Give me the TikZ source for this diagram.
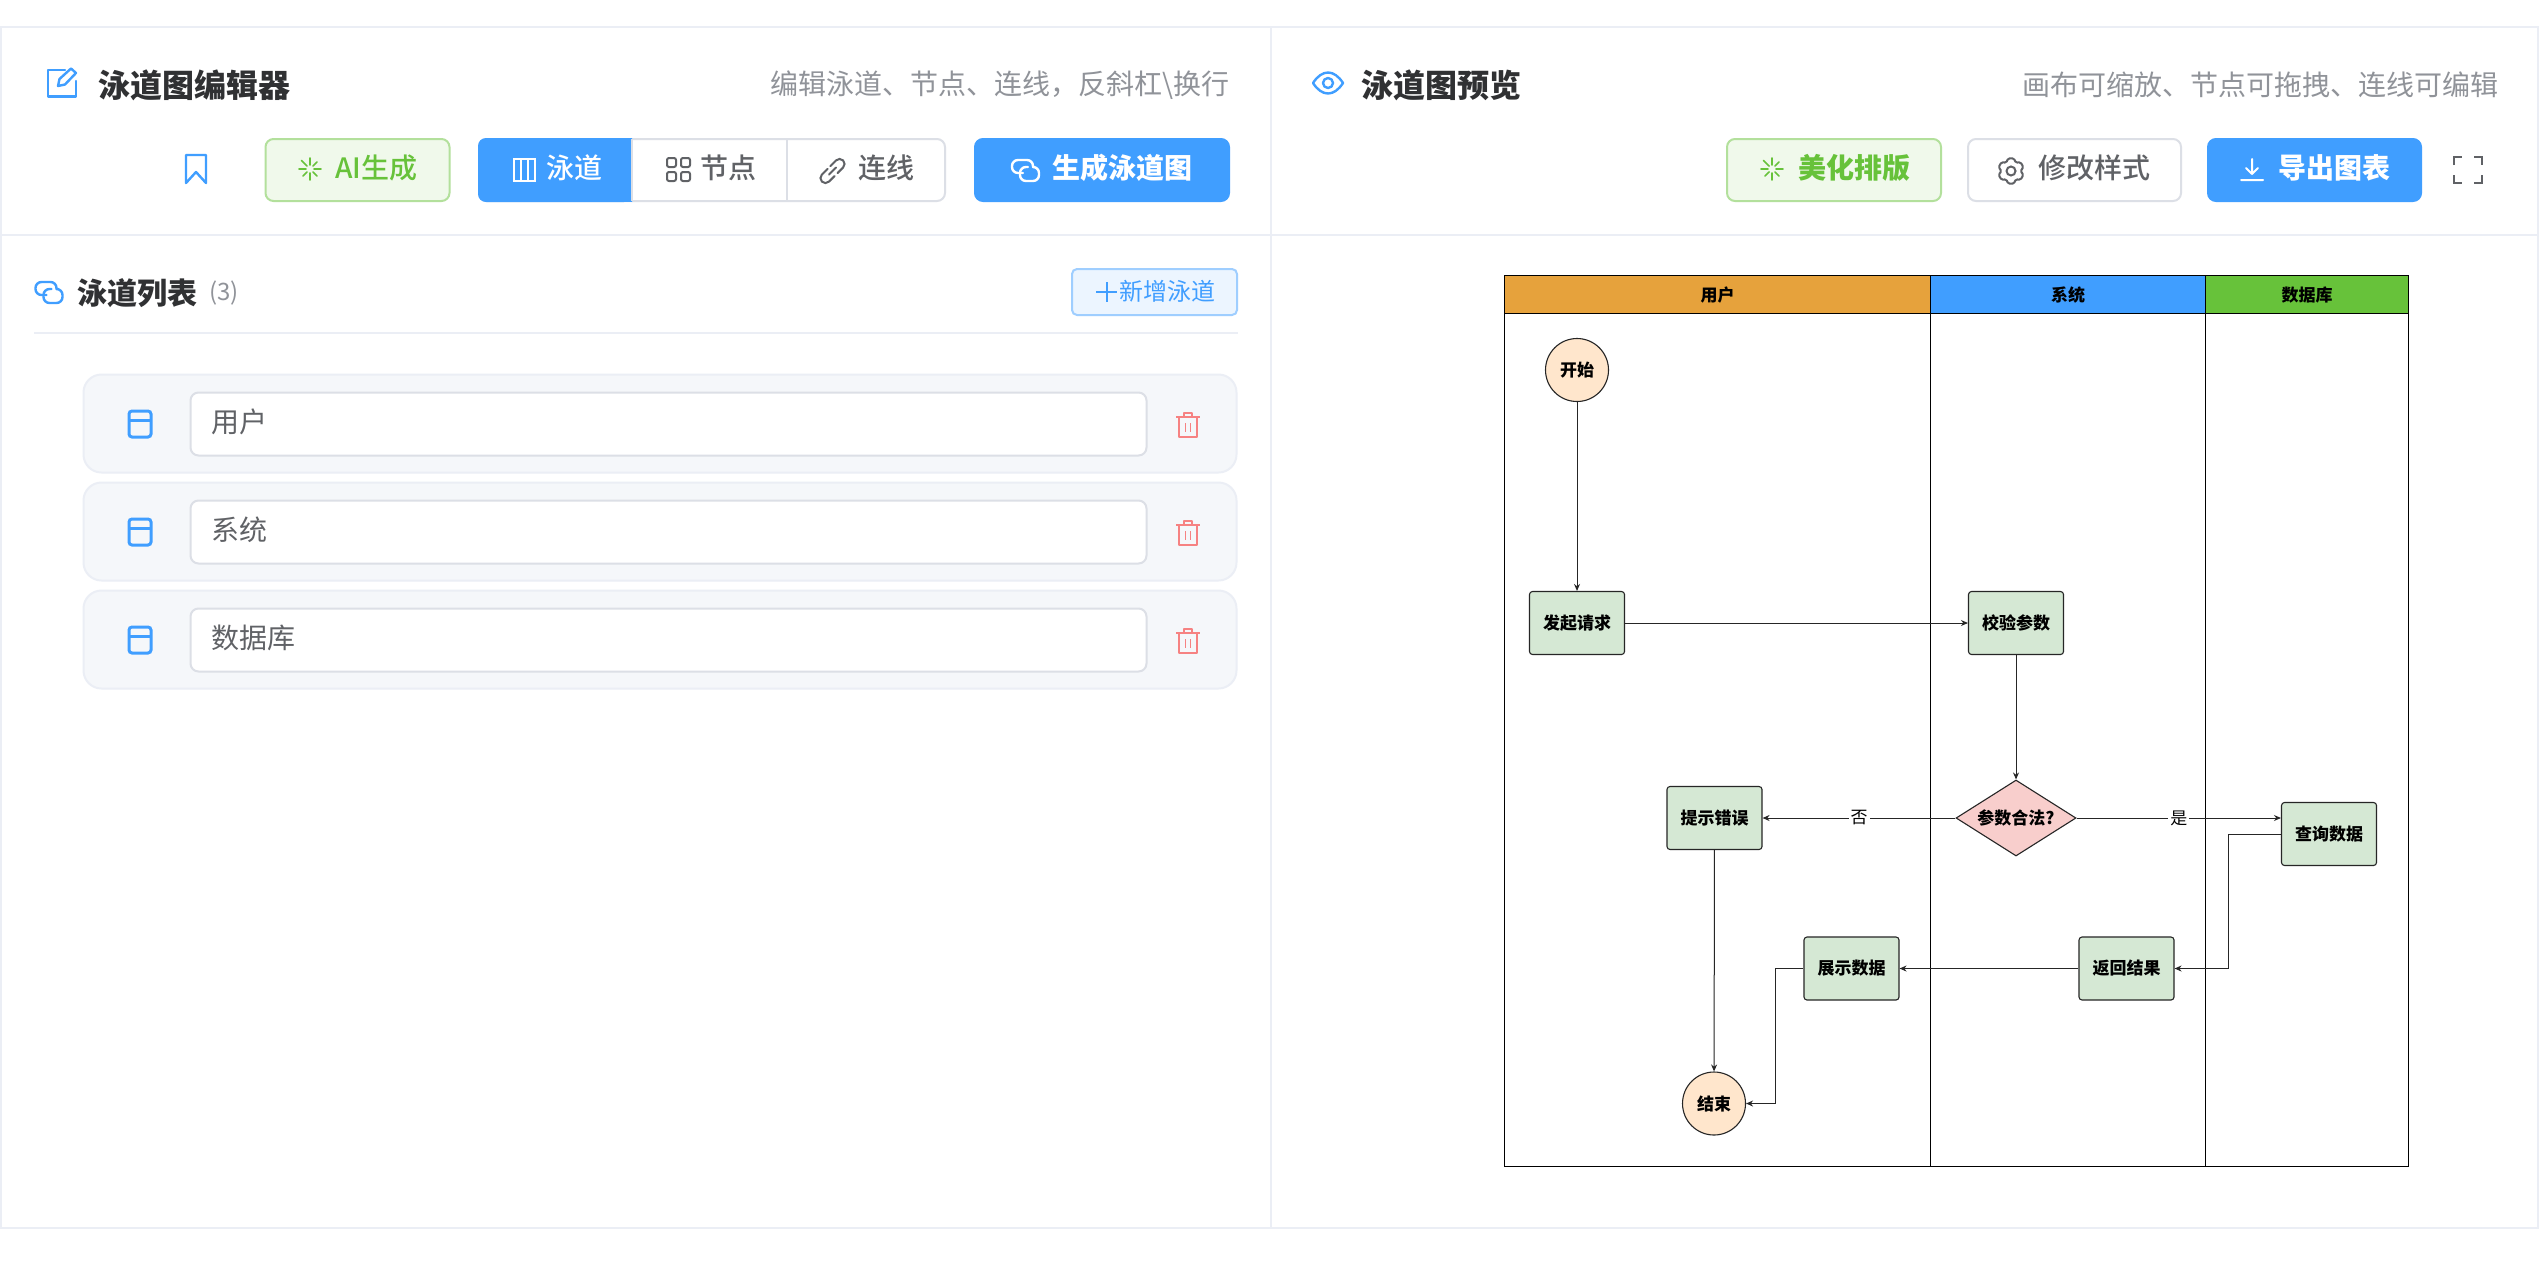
\documentclass[tikz,border=0pt]{standalone}
\usepackage{fontspec}
\setmainfont{Noto Sans CJK SC}
\newfontfamily\mediumfont{Noto Sans CJK SC Medium}
\usetikzlibrary{arrows.meta, shapes.geometric}

\definecolor{linegray}{HTML}{EBEEF5}
\definecolor{btngray}{HTML}{DCDFE6}
\definecolor{rowfill}{HTML}{F5F7FA}
\definecolor{titledark}{HTML}{303133}
\definecolor{subgray}{HTML}{909399}
\definecolor{textgray}{HTML}{606266}
\definecolor{uiblue}{HTML}{409EFF}
\definecolor{uigreen}{HTML}{67C23A}
\definecolor{uiorange}{HTML}{E6A23C}
\definecolor{uired}{HTML}{F56C6C}
\definecolor{termfill}{HTML}{FFE6CC}
\definecolor{procfill}{HTML}{D5E8D4}
\definecolor{decidefill}{HTML}{F8CECC}

\tikzset{
  panelline/.style={draw=linegray, line width=2pt},
  paneltitle/.style={inner sep=0pt, text=titledark, font=\fontsize{32}{34}\selectfont\bfseries},
  listtitle/.style={inner sep=0pt, text=titledark, font=\fontsize{30}{32}\selectfont\bfseries},
  subtitle/.style={inner sep=0pt, text=subgray, font=\fontsize{28}{30}\selectfont},
  btn/.style={rectangle, rounded corners=8pt, line width=2pt, minimum height=62pt, inner sep=0pt},
  greenbtn/.style={btn, draw=uigreen!50!white, fill=uigreen!10!white},
  whitebtn/.style={btn, draw=btngray, fill=white},
  bluebtn/.style={btn, draw=uiblue, fill=uiblue},
  btntext/.style={inner sep=0pt, font=\fontsize{28}{30}\mediumfont\selectfont},
  boldtext/.style={inner sep=0pt, font=\fontsize{28}{30}\selectfont\bfseries},
  row/.style={rectangle, draw=linegray, fill=rowfill, line width=2pt, rounded corners=18pt,
    minimum width=1153pt, minimum height=98pt, inner sep=0pt},
  field/.style={rectangle, draw=btngray, fill=white, line width=2pt, rounded corners=8pt,
    minimum width=956pt, minimum height=63pt, inner sep=0pt},
  fieldtext/.style={inner sep=0pt, text=textgray, font=\fontsize{28}{30}\selectfont},
  lanehead/.style={rectangle, draw=black, line width=1.4pt, minimum height=38pt, inner sep=0pt,
    font=\fontsize{17}{19}\selectfont\bfseries},
  lanebody/.style={rectangle, draw=black, line width=1.4pt, minimum height=853pt, inner sep=0pt},
  term/.style={circle, draw=black!85, fill=termfill, line width=1.1pt, minimum size=63pt,
    inner sep=0pt, font=\fontsize{17}{19}\selectfont\bfseries},
  proc/.style={rectangle, draw=black!85, fill=procfill, rounded corners=3pt, line width=1.1pt,
    minimum width=95pt, minimum height=63pt, inner sep=0pt, font=\fontsize{17}{19}\selectfont\bfseries},
  decide/.style={diamond, draw=black!85, fill=decidefill, line width=1.1pt, aspect=1.58,
    minimum width=120pt, minimum height=76pt, inner sep=0pt, font=\fontsize{17}{19}\selectfont\bfseries},
  flow/.style={draw=black!85, line width=1pt, -{Stealth[length=7pt, width=6pt]}},
  edgetext/.style={fill=white, inner sep=2pt, font=\fontsize{17}{19}\selectfont},
  icon/.style={line width=2.4pt, line cap=round, line join=round},
  sparkle/.pic={
    \draw[line width=1.6pt, line cap=round]
      (90:4) -- (90:11) (45:4) -- (45:10) (0:4) -- (0:11) (-45:4) -- (-45:10)
      (-90:4) -- (-90:11) (-135:4) -- (-135:12) (180:4) -- (180:11) (135:4) -- (135:10);
  },
  linkicon/.pic={
    \draw[icon, rounded corners=6pt] (-3,3) -- (-14,3) -- (-14,-10) -- (7,-10) -- (7,-3);
    \draw[icon, rounded corners=6pt] (2,-3) -- (-6,-3) -- (-6,11) -- (13,11) -- (13,-3) -- (9,-3);
  },
  chainicon/.pic={
    \draw[line width=2pt, line cap=round, rounded corners=5pt] (-2,-5) -- (-15,-5) -- (-15,5) -- (-2,5)
      (2,-5) -- (15,-5) -- (15,5) -- (2,5);
    \draw[line width=2pt, line cap=round] (-5,0) -- (5,0);
  },
  gearicon/.pic={
    \draw[line width=2pt, line join=round, rounded corners=1.5pt]
      (77:13) -- (103:13) -- (120:9.5) -- (137:13) -- (163:13) -- (180:9.5)
      -- (197:13) -- (223:13) -- (240:9.5) -- (257:13) -- (283:13) -- (300:9.5)
      -- (317:13) -- (343:13) -- (0:9.5) -- (17:13) -- (43:13) -- (60:9.5) -- cycle;
    \draw[line width=2pt] (0,0) circle (4.5);
  },
  rowicon/.pic={
    \draw[line width=3pt, draw=uiblue, rounded corners=3pt] (-11,-13) rectangle (11,13);
    \draw[line width=3pt, draw=uiblue] (-11,-4) -- (11,-4);
  },
  trashicon/.pic={
    \draw[line width=1.6pt, draw=uired!85!white, line join=round] (-12,-8) -- (12,-8)
      (-4,-8) -- (-4,-12) -- (4,-12) -- (4,-8)
      (-9,-8) -- (-9,12) -- (9,12) -- (9,-8)
      (-2.5,-2) -- (-2.5,7) (2.5,-2) -- (2.5,7);
  },
}

\begin{document}
\begin{tikzpicture}[x=1pt, y=-1pt]

\useasboundingbox (0,0) rectangle (2539,1278);
\fill[white] (0,0) rectangle (2539,1278);

\draw[panelline] (1,27) rectangle (2538,1228);
\draw[panelline] (1,235) -- (2538,235);
\draw[panelline] (1271,27) -- (1271,1228);

% editor header
\draw[icon, draw=uiblue] (65,70) -- (48,70) -- (48,96.5) -- (76,96.5) -- (76,81);
\draw[icon, draw=uiblue] (58,86) -- (59.5,79) -- (71,68.5) -- (76,73) -- (65,84.5) -- cycle;
\node (edittitle)[paneltitle, anchor=west] at (98,85) {泳道图编辑器};
\node (editsub)[subtitle, anchor=east] at (1230,85) {编辑泳道、节点、连线\char"FF0C 反斜杠\textbackslash 换行};

\draw[icon, draw=uiblue] (186,155) -- (206,155) -- (206,183) -- (196,172) -- (186,183) -- cycle;

\node (aibtn)[greenbtn, minimum width=184pt] at (357.5,170) {};
\pic[uigreen] at (310,169) {sparkle};
\node (aitext)[btntext, text=uigreen] at (376.5,168) {AI生成};

\node (segbtn)[whitebtn, minimum width=466pt] at (712,170) {};
\fill[uiblue, rounded corners=8pt] (632,202) -- (632,202) -- (478,202) -- (478,138) -- (632,138);
\fill[uiblue] (622,138) rectangle (632,202);
\draw[line width=2pt, draw=btngray] (632,139) -- (632,201);
\draw[line width=2pt, draw=btngray] (787,139) -- (787,201);
\draw[line width=2pt, draw=white] (514,159) rectangle (535,181) (521,159) -- (521,181) (528,159) -- (528,181);
\node (lanetext)[btntext, text=white] at (574.5,168) {泳道};
\draw[line width=2pt, draw=textgray, rounded corners=2pt] (667,158) rectangle (676,167) (681,158) rectangle (690,167)
  (667,172) rectangle (676,181) (681,172) rectangle (690,181);
\node (nodetext)[btntext, text=textgray] at (728,168) {节点};
\pic[textgray, rotate=45] at (832.5,171) {chainicon};
\node (linetext)[btntext, text=textgray] at (886,168) {连线};

\node (genbtn)[bluebtn, minimum width=254pt] at (1102,170) {};
\pic[white] at (1026,170) {linkicon};
\node (gentext)[boldtext, text=white] at (1122,168) {生成泳道图};

% lane list
\pic[uiblue] at (49.5,292) {linkicon};
\node (listtitle)[listtitle, anchor=west] at (77,293) {泳道列表};
\node (listcount)[inner sep=0pt, anchor=west, text=subgray, font=\fontsize{24}{26}\selectfont] at (209,293) {(3)};
\node (addbtn)[btn, draw=uiblue!50!white, fill=uiblue!10!white, minimum width=165pt, minimum height=46pt, rounded corners=5pt] at (1154.5,292) {};
\draw[line width=2pt, draw=uiblue] (1096,292) -- (1117,292) (1106.5,282) -- (1106.5,302);
\node (addtext)[inner sep=0pt, text=uiblue, font=\fontsize{24}{26}\selectfont] at (1167,291) {新增泳道};
\draw[panelline] (34,333) -- (1238,333);

\node (row1)[row] at (660,423.5) {};
\node (row2)[row] at (660,531.5) {};
\node (row3)[row] at (660,639.5) {};

\node (field1)[field] at (668.5,424) {};
\node (field2)[field] at (668.5,532) {};
\node (field3)[field] at (668.5,640) {};

\node (name1)[fieldtext, anchor=west] at (211,422) {用户};
\node (name2)[fieldtext, anchor=west] at (211,530) {系统};
\node (name3)[fieldtext, anchor=west] at (211,638) {数据库};

\pic at (140,424) {rowicon};
\pic at (140,532) {rowicon};
\pic at (140,640) {rowicon};

\pic at (1188,425) {trashicon};
\pic at (1188,533) {trashicon};
\pic at (1188,641) {trashicon};

% preview header
\draw[icon, draw=uiblue] (1313,83) .. controls (1322,69) and (1334,69) .. (1343,83) .. controls (1334,97) and (1322,97) .. (1313,83) -- cycle;
\draw[icon, draw=uiblue] (1328,83) circle (5);
\node (viewtitle)[paneltitle, anchor=west] at (1361,85) {泳道图预览};
\node (viewsub)[subtitle, anchor=east] at (2499,85) {画布可缩放、节点可拖拽、连线可编辑};

\node (tidybtn)[greenbtn, minimum width=214pt] at (1834,170) {};
\pic[uigreen] at (1772,169) {sparkle};
\node (tidytext)[boldtext, text=uigreen] at (1854,168) {美化排版};

\node (stylebtn)[whitebtn, minimum width=213pt] at (2074.5,170) {};
\pic[textgray] at (2011,171) {gearicon};
\node (styletext)[btntext, text=textgray] at (2094.5,168) {修改样式};

\node (savebtn)[bluebtn, minimum width=213pt] at (2314.5,170) {};
\draw[line width=2pt, draw=white, line cap=round, line join=round] (2252,159) -- (2252,174) (2246,168) -- (2252,174) -- (2258,168) (2241,180) -- (2263,180);
\node (savetext)[boldtext, text=white] at (2334,168) {导出图表};

\draw[line width=2.4pt, draw=textgray] (2454,165) -- (2454,157) -- (2462,157) (2474,157) -- (2482,157) -- (2482,165)
  (2454,175) -- (2454,183) -- (2462,183) (2474,183) -- (2482,183) -- (2482,175);

% swimlanes
\node (lane1)[lanebody, anchor=north west, minimum width=426pt] at (1504,313) {};
\node (lane2)[lanebody, anchor=north west, minimum width=275pt] at (1930,313) {};
\node (lane3)[lanebody, anchor=north west, minimum width=203pt] at (2205,313) {};

\node (head1)[lanehead, fill=uiorange, anchor=north west, minimum width=426pt] at (1504,275) {用户};
\node (head2)[lanehead, fill=uiblue, anchor=north west, minimum width=275pt] at (1930,275) {系统};
\node (head3)[lanehead, fill=uigreen, anchor=north west, minimum width=203pt] at (2205,275) {数据库};

\node (start)[term] at (1577,370) {开始};
\node (request)[proc] at (1577,623) {发起请求};
\node (check)[proc] at (2016,623) {校验参数};
\node (decision)[decide] at (2016,818) {参数合法?};
\node (warn)[proc] at (1714.5,818) {提示错误};
\node (query)[proc] at (2329,834) {查询数据};
\node (result)[proc] at (2126.5,968.5) {返回结果};
\node (display)[proc] at (1851.5,968.5) {展示数据};
\node (finish)[term] at (1714,1103.5) {结束};

\coordinate (bendq) at (2228,900);
\coordinate (bendd) at (1775,1030);

\draw[flow] (start) -- (request);
\draw[flow] (request) -- (check);
\draw[flow] (check) -- (decision);
\draw[flow] (decision.west) -- (warn.east) node[pos=0.5, edgetext] {否};
\draw[flow] (decision.east) -- (decision.east -| query.west) node[pos=0.5, edgetext] {是};
\draw[flow] (warn) -- (finish);
\draw[flow] (query.west) -| (bendq) |- (result.east);
\draw[flow] (result) -- (display);
\draw[flow] (display.west) -| (bendd) |- (finish.east);

\end{tikzpicture}
\end{document}
